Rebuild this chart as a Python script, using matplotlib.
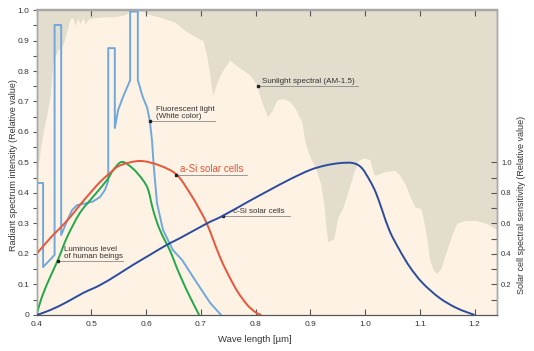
import numpy as np
import matplotlib.pyplot as plt
from matplotlib.path import Path
from matplotlib.patches import PathPatch
from matplotlib.ticker import FixedLocator, FixedFormatter

plt.rcParams["font.family"] = ["Liberation Sans", "DejaVu Sans"]

# Sunlight spectrum AM-1.5 (relative, left axis)
sun_wl = [0.400, 0.406, 0.412, 0.419, 0.425, 0.430, 0.439, 0.447, 0.454, 0.461,
          0.467, 0.470, 0.476, 0.479, 0.485, 0.489, 0.494, 0.507, 0.525, 0.543,
          0.562, 0.574, 0.594, 0.607, 0.625, 0.653, 0.675, 0.693, 0.704, 0.711,
          0.717, 0.722, 0.729, 0.739, 0.753, 0.771, 0.790, 0.802, 0.813, 0.822,
          0.830, 0.839, 0.850, 0.863, 0.875, 0.885, 0.890, 0.899, 0.910, 0.919,
          0.925, 0.928, 0.932, 0.937, 0.943, 0.950, 0.959, 0.968, 0.978, 0.987,
          0.996, 1.009, 1.016, 1.023, 1.036, 1.054, 1.063, 1.073, 1.082, 1.091,
          1.102, 1.107, 1.113, 1.118, 1.125, 1.131, 1.138, 1.147, 1.158, 1.167,
          1.182, 1.204, 1.222, 1.241]
sun_val = [0.45, 0.53, 0.60, 0.66, 0.72, 0.83, 0.87, 0.88, 0.92, 0.97,
           0.975, 0.95, 0.975, 0.955, 0.975, 0.955, 0.97, 0.975, 0.978, 0.978,
           0.985, 1.0, 0.995, 0.985, 0.977, 0.96, 0.928, 0.91, 0.90, 0.85,
           0.78, 0.72, 0.76, 0.80, 0.836, 0.81, 0.787, 0.754, 0.69, 0.65,
           0.67, 0.705, 0.71, 0.70, 0.67, 0.63, 0.57, 0.52, 0.48, 0.43,
           0.36, 0.30, 0.24, 0.245, 0.25, 0.32, 0.35, 0.40, 0.46, 0.505,
           0.515, 0.51, 0.46, 0.46, 0.47, 0.475, 0.46, 0.43, 0.39, 0.354,
           0.35, 0.31, 0.25, 0.18, 0.145, 0.138, 0.15, 0.20, 0.26, 0.30,
           0.31, 0.31, 0.30, 0.28]

# Fluorescent light (white color)
fl_wl = [0.400, 0.412, 0.412, 0.433, 0.433, 0.445, 0.445, 0.456, 0.465, 0.474,
         0.492, 0.503, 0.516, 0.525, 0.531, 0.531, 0.543, 0.543, 0.549, 0.558,
         0.571, 0.571, 0.585, 0.585, 0.594, 0.602, 0.607, 0.611, 0.614, 0.620,
         0.631, 0.649, 0.666, 0.693, 0.717, 0.737]
fl_val = [0.433, 0.433, 0.157, 0.197, 0.951, 0.951, 0.262, 0.31, 0.344, 0.36,
          0.367, 0.372, 0.387, 0.41, 0.44, 0.875, 0.875, 0.613, 0.672, 0.715,
          0.77, 0.995, 0.995, 0.77, 0.715, 0.68, 0.636, 0.57, 0.49, 0.367,
          0.279, 0.213, 0.18, 0.105, 0.04, 0.0]

# Luminous level of human beings
eye_wl = [0.400, 0.410, 0.425, 0.439, 0.456, 0.479, 0.503, 0.529, 0.540, 0.556,
          0.576, 0.594, 0.604, 0.613, 0.625, 0.644, 0.655, 0.667, 0.680, 0.697]
eye_val = [0.0, 0.06, 0.125, 0.18, 0.256, 0.334, 0.387, 0.443, 0.475, 0.502,
           0.48, 0.443, 0.41, 0.344, 0.28, 0.21, 0.16, 0.11, 0.06, 0.0]

# a-Si solar cells
asi_wl = [0.400, 0.425, 0.443, 0.461, 0.479, 0.498, 0.516, 0.534, 0.552, 0.589,
          0.625, 0.656, 0.680, 0.698, 0.711, 0.722, 0.735, 0.748, 0.766, 0.784,
          0.799, 0.810]
asi_val = [0.2, 0.252, 0.285, 0.32, 0.36, 0.40, 0.436, 0.465, 0.49, 0.505,
           0.49, 0.46, 0.40, 0.345, 0.30, 0.25, 0.19, 0.14, 0.08, 0.035,
           0.01, 0.0]

# c-Si solar cells (right axis, spectral sensitivity)
csi_wl = [0.400, 0.425, 0.456, 0.485, 0.516, 0.547, 0.576, 0.607, 0.638, 0.662,
          0.711, 0.740, 0.790, 0.826, 0.863, 0.899, 0.927, 0.954, 0.978, 0.994,
          1.009, 1.020, 1.031, 1.045, 1.063, 1.082, 1.105, 1.136, 1.167, 1.200]
csi_val = [0.0, 0.032, 0.086, 0.144, 0.196, 0.262, 0.328, 0.394, 0.46, 0.504,
           0.60, 0.65, 0.75, 0.82, 0.89, 0.95, 0.98, 0.996, 0.996, 0.964,
           0.88, 0.80, 0.69, 0.55, 0.426, 0.314, 0.21, 0.112, 0.046, 0.0]

x_ticks = [0.4, 0.5, 0.6, 0.7, 0.8, 0.9, 1.0, 1.1, 1.2]
left_ticks = [0, 0.1, 0.2, 0.3, 0.4, 0.5, 0.6, 0.7, 0.8, 0.9, 1.0]
right_ticks = [0.2, 0.4, 0.6, 0.8, 1.0]

GRAY_BG = "#E2DDCD"
CREAM = "#FDF2E4"
TXT = "#333333"


# smooth curve through the read points (Catmull-Rom as cubic Bezier path)
def smooth_curve(ax, xs, ys, color, lw=1.4):
    p = np.column_stack([xs, ys]).astype(float)
    ext = np.vstack([p[0], p, p[-1]])
    verts = [p[0]]
    codes = [Path.MOVETO]
    for i in range(1, len(ext) - 2):
        c1 = ext[i] + (ext[i + 1] - ext[i - 1]) / 6.0
        c2 = ext[i + 1] - (ext[i + 2] - ext[i]) / 6.0
        verts += [c1, c2, ext[i + 1]]
        codes += [Path.CURVE4] * 3
    ax.add_patch(PathPatch(Path(verts, codes), facecolor="none",
                           edgecolor=color, lw=lw, zorder=3))


fig = plt.figure(figsize=(5.34, 3.51), dpi=100)
ax = fig.add_axes([0.0684, 0.1026, 0.8623, 0.8689])
ax.set_facecolor(GRAY_BG)

ax.fill_between(sun_wl, 0, sun_val, color=CREAM, lw=0, zorder=1)
ax.plot(fl_wl, fl_val, color="#6FA8DC", lw=1.4, zorder=3)
smooth_curve(ax, eye_wl, eye_val, "#22A84A")
smooth_curve(ax, asi_wl, asi_val, "#E8553A")

ax.set_xlim(0.4, 1.241)
ax.set_ylim(0, 1.0)

ax2 = ax.twinx()
smooth_curve(ax2, csi_wl, csi_val, "#2B4C9E")
ax2.set_ylim(0, 2.0)


def callout(x0, y0, x1, text, dx, color=TXT, size=5.8):
    ax.plot([x0, x1], [y0, y0], color="#8A8A8A", lw=0.6, zorder=4)
    ax.plot(x0, y0, "s", color="#222222", ms=1.8, zorder=5)
    ax.text(x0 + dx, y0 + 0.004, text, ha="left", va="bottom",
            fontsize=size, color=color, linespacing=1.0, zorder=5)


callout(0.804, 0.751, 0.987, "Sunlight spectral (AM-1.5)", 0.007)
callout(0.607, 0.636, 0.726, "Fluorescent light\n(White color)", 0.011)
callout(0.655, 0.459, 0.784, "a-Si solar cells", 0.007, color="#E8553A", size=7)
callout(0.740, 0.325, 0.863, "c-Si solar cells", 0.018)
callout(0.439, 0.177, 0.558, "Luminous level\nof human beings", 0.011)

# ticks
ax.xaxis.set_major_locator(FixedLocator(x_ticks))
ax.xaxis.set_major_formatter(FixedFormatter([f"{v:.1f}" for v in x_ticks]))
ax.tick_params(axis="x", direction="in", top=True, length=4, width=0.8,
               colors="#555555", labelsize=6, labelcolor=TXT, pad=4)
ax.yaxis.set_major_locator(FixedLocator(left_ticks))
ax.yaxis.set_major_formatter(FixedFormatter(["0"] + [f"{v:.1f}" for v in left_ticks[1:]]))
ax.yaxis.set_minor_locator(FixedLocator(np.arange(0.05, 1.0, 0.1)))
ax.tick_params(axis="y", which="both", direction="out", length=3, width=0.8,
               colors="#555555", labelsize=6, labelcolor=TXT, pad=2)

ax2.yaxis.set_major_locator(FixedLocator(right_ticks))
ax2.yaxis.set_major_formatter(FixedFormatter([f"{v:.1f}" for v in right_ticks]))
ax2.yaxis.set_minor_locator(FixedLocator(np.arange(0.1, 1.0, 0.2)))
ax2.tick_params(axis="y", which="both", direction="in", length=4, width=0.8,
                colors="#555555", labelsize=5.5, labelcolor=TXT, pad=3)

for a in (ax, ax2):
    for side in ("top", "right", "left"):
        a.spines[side].set_color("#A8A8A8")
        a.spines[side].set_linewidth(1.0)
    a.spines["bottom"].set_color("#555555")
    a.spines["bottom"].set_linewidth(0.8)
ax.spines["top"].set_linewidth(1.6)
ax2.spines["top"].set_linewidth(1.6)

fig.text(14 / 534, 1 - 165 / 351, "Radiant spectrum intensity (Relative value)",
         rotation=90, ha="center", va="center", fontsize=6.5, color=TXT)
fig.text(522 / 534, 1 - 205 / 351, "Solar cell spectral sensitivity (Relative value)",
         rotation=90, ha="center", va="center", fontsize=6.5, color=TXT)
fig.text(255 / 534, 1 - 340 / 351, "Wave length [\u00b5m]",
         ha="center", va="center", fontsize=6.8, color=TXT)

fig.savefig("out.png", dpi=100, facecolor="white")
